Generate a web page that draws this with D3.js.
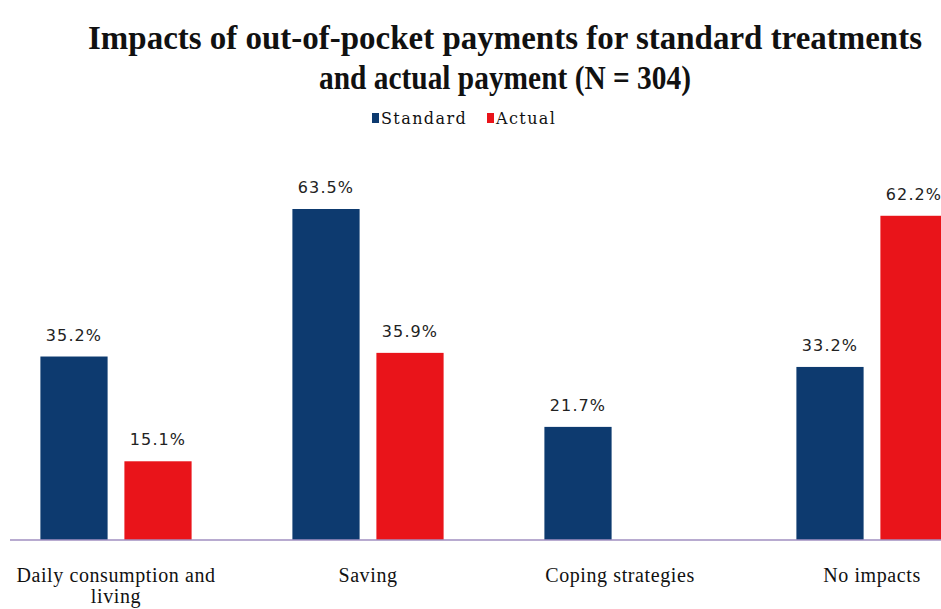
<!DOCTYPE html>
<html>
<head>
<meta charset="utf-8">
<script src="https://cdn.jsdelivr.net/npm/d3@7"></script>
<style>
  body { margin: 0; background: #fff; }
  svg { display: block; }
</style>
</head>
<body>
<svg id="chart"></svg>
<script>
const categories = ['Daily consumption and living', 'Saving', 'Coping strategies', 'No impacts'];
const seriesNames = ['Standard', 'Actual'];
const standardValues = [35.2, 63.5, 21.7, 33.2];
const actualValues = [15.1, 35.9, null, 62.2];
const titleLines = ['Impacts of out-of-pocket payments for standard treatments', 'and actual payment (N = 304)'];

const colors = { Standard: '#0d3a6f', Actual: '#e9141a' };
const width = 941, height = 609;
const axisY = 540;

const svg = d3.select('#chart').attr('width', width).attr('height', height);

const data = categories.map((c, i) => ({
  category: c,
  values: [
    { series: 'Standard', value: standardValues[i] },
    { series: 'Actual', value: actualValues[i] }
  ]
}));

// group scale (the picture is cropped, so range runs past the edges)
const x0 = d3.scaleBand()
  .domain(categories)
  .range([-10, 998])
  .paddingInner(0.4)
  .paddingOuter(0.2);

const x1 = d3.scaleBand()
  .domain(seriesNames)
  .range([0, x0.bandwidth()])
  .paddingInner(0.2);

const y = d3.scaleLinear()
  .domain([0, 63.5])
  .range([axisY, 209]);

// title: condensed bold serif, stretched a little vertically
const title = svg.append('g')
  .attr('font-family', '"Liberation Serif", "Times New Roman", serif')
  .attr('font-weight', 'bold')
  .attr('font-size', 31)
  .attr('fill', '#111');

[[titleLines[0], 49, 834], [titleLines[1], 89, 372]].forEach(([txt, ty, len]) => {
  title.append('g')
    .attr('transform', `translate(505,${ty}) scale(1,1.12)`)
    .append('text')
    .attr('text-anchor', 'middle')
    .attr('textLength', len)
    .attr('lengthAdjust', 'spacingAndGlyphs')
    .text(txt);
});

// legend
const legend = svg.append('g')
  .attr('font-family', '"DejaVu Serif", serif')
  .attr('font-size', 16)
  .attr('letter-spacing', 1.4)
  .attr('fill', '#111');

const legendX = [372, 487];
seriesNames.forEach((s, i) => {
  legend.append('rect')
    .attr('x', legendX[i]).attr('y', 113)
    .attr('width', 7).attr('height', 10)
    .attr('fill', colors[s]);
  legend.append('text')
    .attr('x', legendX[i] + 9).attr('y', 124)
    .text(s);
});

// bars
const groups = svg.append('g')
  .selectAll('g')
  .data(data)
  .join('g')
  .attr('transform', d => `translate(${x0(d.category)},0)`);

const present = d => d.values.filter(v => v.value != null);

groups.selectAll('rect')
  .data(present)
  .join('rect')
  .attr('x', d => x1(d.series))
  .attr('y', d => y(d.value))
  .attr('width', x1.bandwidth())
  .attr('height', d => axisY - y(d.value))
  .attr('fill', d => colors[d.series]);

groups.selectAll('text.value')
  .data(present)
  .join('text')
  .attr('class', 'value')
  .attr('x', d => x1(d.series) + x1.bandwidth() / 2)
  .attr('y', d => y(d.value) - 16)
  .attr('text-anchor', 'middle')
  .attr('font-family', '"DejaVu Sans", sans-serif')
  .attr('font-size', 16)
  .attr('letter-spacing', 1.1)
  .attr('fill', '#222')
  .text(d => d.value.toFixed(1) + '%');

// x axis
const xAxis = svg.append('g')
  .attr('transform', `translate(0,${axisY})`)
  .call(d3.axisBottom(x0).tickSize(0).tickPadding(28));

xAxis.select('.domain')
  .attr('d', `M10,0H${width}`)
  .attr('stroke', '#a08fc0')
  .attr('stroke-width', 1.5);

xAxis.selectAll('.tick text')
  .attr('font-family', '"Liberation Serif", "Times New Roman", serif')
  .attr('font-size', 20)
  .attr('letter-spacing', 0.6)
  .attr('fill', '#111')
  .each(function(d) {
    const t = d3.select(this);
    if (d === 'Daily consumption and living') {
      t.text(null);
      t.append('tspan').attr('x', 0).attr('dy', '0.71em').text('Daily consumption and');
      t.append('tspan').attr('x', 0).attr('dy', '1.05em').text('living');
      t.attr('dy', null);
    }
  });
</script>
</body>
</html>
